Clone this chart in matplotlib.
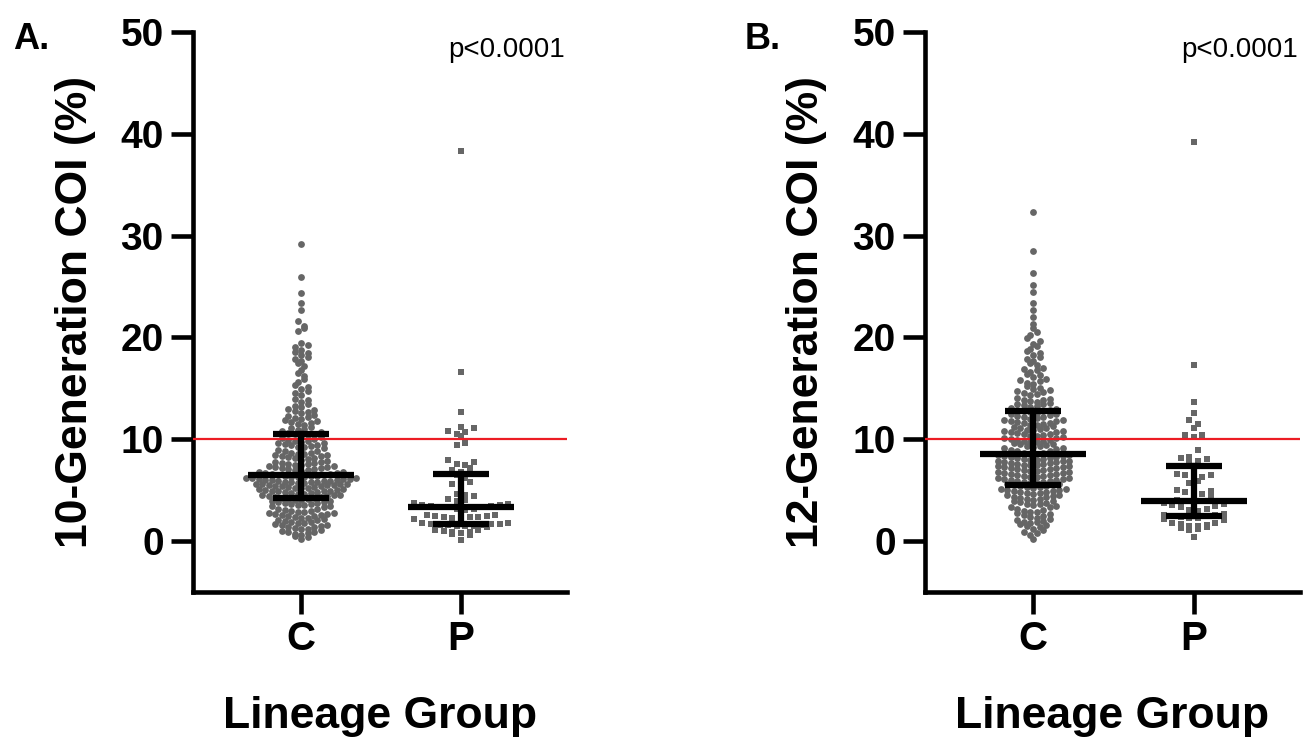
import numpy as np
import matplotlib
matplotlib.use('Agg')
import matplotlib.pyplot as plt

plt.rcParams['font.family'] = ['Liberation Sans', 'DejaVu Sans']
plt.rcParams['font.weight'] = 'bold'

groups = ['C', 'P']

# 10-generation COI (%), C lineages
coi10_C = [0.2, 0.4, 0.5, 0.6, 0.7, 0.8, 0.9, 0.9,
           1.0, 1.1, 1.2, 1.2, 1.3, 1.4, 1.4, 1.5, 1.6, 1.6, 1.7, 1.8, 1.8, 1.9, 1.9,
           2.0, 2.1, 2.1, 2.2, 2.3, 2.3, 2.4, 2.5, 2.5, 2.6, 2.6, 2.7, 2.7, 2.8, 2.8, 2.9, 2.9,
           3.0, 3.0, 3.1, 3.2, 3.2, 3.3, 3.4, 3.4, 3.5, 3.5, 3.6, 3.6, 3.7, 3.7, 3.8, 3.8, 3.9, 3.9,
           4.0, 4.0, 4.1, 4.1, 4.2, 4.2, 4.3, 4.3, 4.4, 4.4, 4.5, 4.5, 4.5, 4.6, 4.6, 4.7, 4.7,
           4.8, 4.8, 4.9, 4.9, 4.9, 4.95,
           5.0, 5.0, 5.1, 5.1, 5.2, 5.2, 5.2, 5.3, 5.3, 5.4, 5.4, 5.4, 5.5, 5.5, 5.5, 5.6, 5.6,
           5.6, 5.6, 5.7, 5.7, 5.8, 5.8, 5.8, 5.8, 5.9, 5.9, 5.9,
           6.0, 6.0, 6.0, 6.1, 6.1, 6.1, 6.2, 6.2, 6.2, 6.3, 6.3, 6.3, 6.4, 6.4, 6.4, 6.5,
           6.5, 6.6, 6.6, 6.7, 6.7, 6.8, 6.8, 6.9,
           7.0, 7.0, 7.1, 7.1, 7.2, 7.2, 7.3, 7.3, 7.4, 7.4, 7.5, 7.5, 7.6, 7.6, 7.7, 7.7,
           7.8, 7.8, 7.9,
           8.0, 8.1, 8.2, 8.2, 8.3, 8.4, 8.4, 8.5, 8.5, 8.6, 8.6, 8.7, 8.7, 8.8, 8.8, 8.9,
           9.1, 9.2, 9.2, 9.3, 9.4, 9.4, 9.5, 9.6, 9.6, 9.7, 9.8, 9.8, 9.9,
           10.0, 10.1, 10.2, 10.3, 10.4, 10.5, 10.5, 10.6, 10.7, 10.8, 10.9,
           11.0, 11.1, 11.2, 11.4, 11.5, 11.6, 11.7, 11.8, 11.9,
           12.0, 12.1, 12.2, 12.3, 12.4, 12.6, 12.7, 12.8, 12.9,
           13.0, 13.2, 13.3, 13.5, 13.7, 13.9,
           14.0, 14.3, 14.5, 14.7, 14.9,
           15.1, 15.3, 15.6, 15.9,
           16.2, 16.5, 16.8,
           17.2, 17.5, 17.7, 17.9,
           18.1, 18.3, 18.5, 18.6, 18.8,
           19.1, 19.3, 19.5,
           20.6, 20.9, 21.1, 21.6,
           22.7, 23.4, 24.4, 25.9, 29.2]

# 10-generation COI (%), P lineages
coi10_P = [0.1,
           0.6, 0.7, 0.8, 0.9, 0.9, 1.0, 1.1, 1.1,
           1.4, 1.5, 1.5, 1.5, 1.6, 1.6, 1.6, 1.7, 1.7, 1.7, 1.8, 1.8,
           2.2, 2.3, 2.3, 2.4, 2.4, 2.4, 2.5, 2.5, 2.6, 2.6,
           3.1, 3.2, 3.2, 3.3, 3.3, 3.3, 3.4, 3.4, 3.5, 3.5, 3.6, 3.7,
           3.9, 4.0, 4.1,
           4.4, 4.5, 4.6,
           5.3,
           5.6, 5.8, 6.2, 6.5, 6.8,
           7.0, 7.2, 7.5, 7.6, 7.8, 8.0,
           9.4, 9.6, 10.3, 10.5, 10.7, 10.8, 11.1, 11.2,
           12.7, 16.6, 38.3]

# 12-generation COI (%), C lineages
coi12_C = [0.2, 0.6, 0.8, 0.9,
           1.1, 1.2, 1.4, 1.5, 1.6, 1.7, 1.8, 1.9, 1.9,
           2.0, 2.1, 2.2, 2.3, 2.4, 2.5, 2.6, 2.7, 2.8, 2.9, 2.9,
           3.0, 3.1, 3.2, 3.3, 3.3, 3.4, 3.5, 3.6, 3.6, 3.7, 3.8, 3.9, 3.9,
           4.0, 4.1, 4.1, 4.2, 4.3, 4.3, 4.4, 4.5, 4.5, 4.6, 4.7, 4.7, 4.8, 4.8, 4.9, 4.9,
           5.0, 5.0, 5.1, 5.1, 5.2, 5.3, 5.3, 5.4, 5.4, 5.5, 5.5, 5.6, 5.6, 5.7, 5.7, 5.8,
           5.8, 5.9, 5.9,
           6.0, 6.0, 6.1, 6.1, 6.2, 6.2, 6.3, 6.3, 6.4, 6.4, 6.5, 6.5, 6.6, 6.6, 6.7, 6.7,
           6.8, 6.8, 6.9, 6.9,
           7.0, 7.0, 7.1, 7.1, 7.2, 7.2, 7.3, 7.3, 7.4, 7.4, 7.5, 7.5, 7.5, 7.6, 7.6, 7.7,
           7.7, 7.8, 7.8, 7.9, 7.9, 7.9,
           8.0, 8.0, 8.1, 8.1, 8.2, 8.2, 8.3, 8.3, 8.4, 8.4, 8.5, 8.5, 8.6, 8.6, 8.7, 8.7,
           8.8, 8.8, 8.9,
           9.0, 9.1, 9.1, 9.2, 9.3, 9.3, 9.4, 9.5, 9.5, 9.6, 9.7, 9.7, 9.8, 9.8, 9.9, 9.9,
           10.0, 10.1, 10.1, 10.2, 10.3, 10.3, 10.4, 10.5, 10.5, 10.6, 10.7, 10.7, 10.8,
           10.8, 10.9, 10.9,
           11.0, 11.1, 11.1, 11.2, 11.3, 11.4, 11.4, 11.5, 11.6, 11.6, 11.7, 11.8, 11.8,
           11.9, 11.9,
           12.0, 12.1, 12.2, 12.2, 12.3, 12.4, 12.5, 12.5, 12.6, 12.7, 12.8, 12.8, 12.9, 12.9,
           13.0, 13.1, 13.2, 13.3, 13.4, 13.5, 13.5, 13.6, 13.7, 13.8, 13.9, 13.9,
           14.0, 14.1, 14.3, 14.4, 14.5, 14.6, 14.7, 14.8, 14.9,
           15.0, 15.2, 15.4, 15.5, 15.7, 15.8, 15.9,
           16.1, 16.3, 16.4, 16.6, 16.8, 16.9,
           17.0, 17.3, 17.5, 17.7, 17.9,
           18.1, 18.3, 18.5, 18.7, 18.9,
           19.2, 19.4, 19.7, 19.9,
           20.2, 20.5, 20.9, 21.3,
           22.0, 22.7, 23.4, 24.5, 25.2, 26.3, 28.5, 32.3]

# 12-generation COI (%), P lineages
coi12_P = [0.4,
           1.1, 1.2, 1.3, 1.4, 1.5, 1.5, 1.6, 1.7, 1.8, 1.8,
           2.1, 2.2, 2.3, 2.3, 2.4, 2.5, 2.5, 2.6, 2.6, 2.7,
           3.0, 3.1, 3.2, 3.3, 3.4, 3.5, 3.6, 3.7, 3.8, 3.9, 3.9, 4.0,
           4.3, 4.5, 4.6, 4.8, 4.9, 5.0,
           5.7, 5.9, 6.1, 6.3, 6.5, 6.5, 6.6, 6.8,
           7.9, 8.0, 8.1, 8.2, 8.3,
           8.9, 10.2, 10.4, 10.4,
           11.1, 11.5, 11.9,
           12.6, 13.7, 17.3, 39.2]

yticks = [0, 10, 20, 30, 40, 50]
cutoff = 10
p_text = 'p<0.0001'

fig = plt.figure(figsize=(13.16, 7.38), dpi=100)

W, H = 1316.0, 738.0
axA = fig.add_axes([193 / W, (H - 592) / H, 374 / W, 560 / H])
axB = fig.add_axes([925 / W, (H - 592) / H, 375 / W, 560 / H])

dot_col = '#666666'


def row_spread(vals, h, d):
    # group values into horizontal rows of height h, spread each row sideways
    v = np.asarray(vals, dtype=float)
    order = np.argsort(v, kind='stable')
    rows = np.floor(v / h).astype(int)
    xs = np.zeros(len(v))
    for k, r in enumerate(np.unique(rows)):
        idx = [i for i in order if rows[i] == r]
        n = len(idx)
        offs = (np.arange(n) - (n - 1) / 2.0) * d
        sgn = 1 if k % 2 else -1
        offs = sorted(offs, key=lambda o: (round(abs(o), 6), sgn * o))
        for i, o in zip(idx, offs):
            xs[i] = o
    return xs


def panel(ax, data_c, data_p, ylabel, letter):
    ax.set_xlim(-0.675, 1.6625)
    ax.set_ylim(-5, 50)
    x0 = ax.transData.transform([[0, 0]])[0]
    x1 = ax.transData.transform([[1, 1]])[0]
    ppx = x1[0] - x0[0]
    ppy = x1[1] - x0[1]

    for pos, vals, mk, s, h, d in [(0, data_c, 'o', 24, 5.8, 6.5),
                                   (1, data_p, 's', 16, 7.6, 8.6)]:
        v = np.asarray(vals, dtype=float)
        off = row_spread(v, h / ppy, d) / ppx
        ax.scatter(pos + off, v, s=s, marker=mk, color=dot_col, linewidths=0, zorder=2)

    ax.axhline(cutoff, color='#ec1c24', lw=1.6, zorder=3)

    for pos, vals in [(0, data_c), (1, data_p)]:
        q1, med, q3 = np.percentile(vals, [25, 50, 75])
        ax.plot([pos - 0.33, pos + 0.33], [med, med], color='black', lw=4.5,
                solid_capstyle='butt', zorder=4)
        ax.plot([pos - 0.175, pos + 0.175], [q1, q1], color='black', lw=4.5,
                solid_capstyle='butt', zorder=4)
        ax.plot([pos - 0.175, pos + 0.175], [q3, q3], color='black', lw=4.5,
                solid_capstyle='butt', zorder=4)
        ax.plot([pos, pos], [q1, q3], color='black', lw=4.5, zorder=4)

    for side in ['top', 'right']:
        ax.spines[side].set_visible(False)
    for side in ['left', 'bottom']:
        ax.spines[side].set_linewidth(3.3)
        ax.spines[side].set_capstyle('projecting')

    ax.set_yticks(yticks)
    ax.set_yticklabels([str(t) for t in yticks], fontsize=28, fontweight='bold')
    ax.set_xticks([0, 1])
    ax.set_xticklabels(groups, fontsize=29, fontweight='bold')
    ax.tick_params(axis='both', length=16, width=3.3, direction='out')
    ax.tick_params(axis='y', pad=5)
    ax.tick_params(axis='x', pad=4)

    ax.text(-0.3155, 0.5, ylabel, transform=ax.transAxes, rotation=90,
            ha='center', va='center', fontsize=32, fontweight='bold')
    ax.text(0.5, -0.243, 'Lineage Group', transform=ax.transAxes,
            ha='center', va='baseline', fontsize=32, fontweight='bold')
    ax.text(0.995, 0.955, p_text, transform=ax.transAxes, ha='right',
            va='baseline', fontsize=20, fontweight='normal')
    ax.text(-0.482, 0.969, letter, transform=ax.transAxes, ha='left',
            va='baseline', fontsize=26, fontweight='bold')


panel(axA, coi10_C, coi10_P, '10-Generation COI (%)', 'A.')
panel(axB, coi12_C, coi12_P, '12-Generation COI (%)', 'B.')

fig.savefig('out.png', dpi=100)
